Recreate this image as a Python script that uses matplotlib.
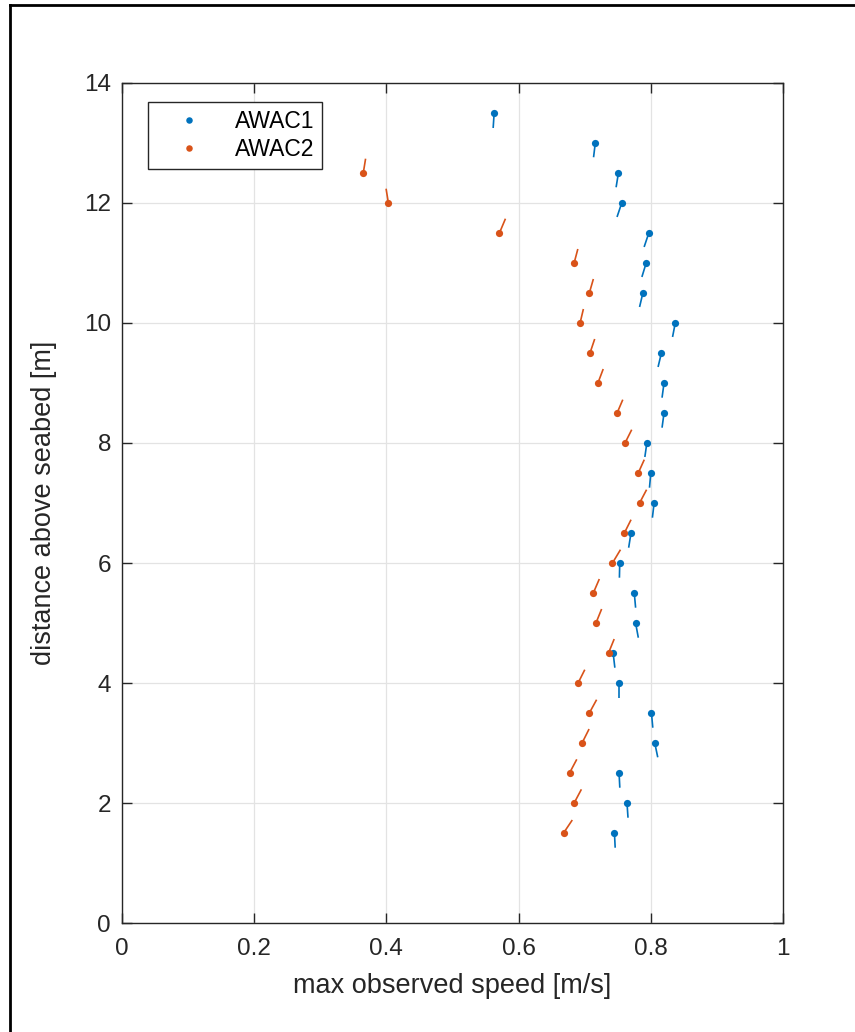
import numpy as np
import matplotlib
matplotlib.use('agg')
import matplotlib.pyplot as plt
from matplotlib.lines import Line2D

plt.rcParams['font.family'] = ['Liberation Sans', 'DejaVu Sans']

# heights above seabed [m]
height1 = [1.5, 2.0, 2.5, 3.0, 3.5, 4.0, 4.5, 5.0, 5.5, 6.0, 6.5, 7.0, 7.5,
           8.0, 8.5, 9.0, 9.5, 10.0, 10.5, 11.0, 11.5, 12.0, 12.5, 13.0, 13.5]
height2 = [1.5, 2.0, 2.5, 3.0, 3.5, 4.0, 4.5, 5.0, 5.5, 6.0, 6.5, 7.0, 7.5,
           8.0, 8.5, 9.0, 9.5, 10.0, 10.5, 11.0, 11.5, 12.0, 12.5]

# max observed speed [m/s]
speed1 = [0.745, 0.764, 0.752, 0.806, 0.801, 0.752, 0.743, 0.777, 0.775, 0.753,
          0.770, 0.805, 0.800, 0.794, 0.820, 0.820, 0.816, 0.837, 0.788, 0.793,
          0.797, 0.756, 0.751, 0.716, 0.563]
speed2 = [0.668, 0.684, 0.677, 0.696, 0.707, 0.690, 0.736, 0.717, 0.713, 0.742,
          0.760, 0.783, 0.781, 0.761, 0.749, 0.720, 0.708, 0.693, 0.707, 0.684,
          0.571, 0.403, 0.365]

# direction sticks (in axis units)
u1 = [0.0011, 0.0015, 0.0011, 0.0045, 0.0020, 0.0000, 0.0026, 0.0041, 0.0020, -0.0005,
      -0.0035, -0.0026, -0.0020, -0.0030, -0.0030, -0.0030, -0.0050, -0.0041, -0.0050, -0.0065,
      -0.0071, -0.0071, -0.0035, -0.0026, -0.0015]
v1 = [-0.245, -0.245, -0.245, -0.238, -0.245, -0.245, -0.245, -0.245, -0.245, -0.245,
      -0.245, -0.245, -0.245, -0.233, -0.245, -0.245, -0.233, -0.233, -0.233, -0.233,
      -0.233, -0.233, -0.238, -0.238, -0.250]
u2 = [0.0132, 0.0110, 0.0110, 0.0106, 0.0110, 0.0101, 0.0086, 0.0086, 0.0091, 0.0121,
      0.0101, 0.0106, 0.0091, 0.0101, 0.0086, 0.0080, 0.0071, 0.0050, 0.0061, 0.0056,
      0.0091, -0.0035, 0.0035]
v2 = [0.217, 0.228, 0.228, 0.233, 0.222, 0.222, 0.233, 0.233, 0.233, 0.222,
      0.222, 0.222, 0.222, 0.222, 0.222, 0.233, 0.233, 0.233, 0.233, 0.233,
      0.238, 0.238, 0.238]

c1 = '#0072BD'
c2 = '#D95319'
axcol = '#262626'

fig = plt.figure(figsize=(8.55, 10.32), dpi=100)
ax = fig.add_axes([0.1427, 0.1056, 0.7731, 0.8140])

for x, y, u, v in zip(speed1, height1, u1, v1):
    ax.plot([x, x + u], [y, y + v], color=c1, lw=1.2, solid_capstyle='butt')
for x, y, u, v in zip(speed2, height2, u2, v2):
    ax.plot([x, x + u], [y, y + v], color=c2, lw=1.2, solid_capstyle='butt')

ax.plot(speed1, height1, 'o', color=c1, ms=5.2, mew=0, label='AWAC1')
ax.plot(speed2, height2, 'o', color=c2, ms=5.2, mew=0, label='AWAC2')

ax.set_xlim(0, 1)
ax.set_ylim(0, 14)
ax.set_xticks([0, 0.2, 0.4, 0.6, 0.8, 1])
ax.set_xticklabels(['0', '0.2', '0.4', '0.6', '0.8', '1'])
ax.set_yticks(range(0, 15, 2))
ax.grid(True, color='#e3e3e3', lw=0.9)
ax.set_axisbelow(True)
ax.tick_params(direction='in', length=7, width=1, color=axcol, labelcolor=axcol,
               labelsize=17.5, top=True, right=True)
ax.tick_params(axis='x', pad=11)
ax.tick_params(axis='y', pad=8)
for s in ax.spines.values():
    s.set_color(axcol)
    s.set_linewidth(1)

ax.set_xlabel('max observed speed [m/s]', fontsize=19.5, color=axcol, labelpad=9)
ax.set_ylabel('distance above seabed [m]', fontsize=19.5, color=axcol, labelpad=19)

leg = ax.legend(loc='upper left', bbox_to_anchor=(0.039, 0.977), borderaxespad=0,
                fontsize=16.5, handlelength=2.9, handletextpad=0.55, labelspacing=0.2,
                borderpad=0.35, fancybox=False, framealpha=1, markerscale=0.9)
leg.get_frame().set_edgecolor(axcol)
leg.get_frame().set_linewidth(1)

# outer frame lines (top and left)
fig.add_artist(Line2D([10 / 855, 1], [1 - 5 / 1032, 1 - 5 / 1032], color='black', lw=2,
                      transform=fig.transFigure))
fig.add_artist(Line2D([10 / 855, 10 / 855], [0, 1 - 5 / 1032], color='black', lw=2,
                      transform=fig.transFigure))

fig.savefig('out.png', dpi=100)
